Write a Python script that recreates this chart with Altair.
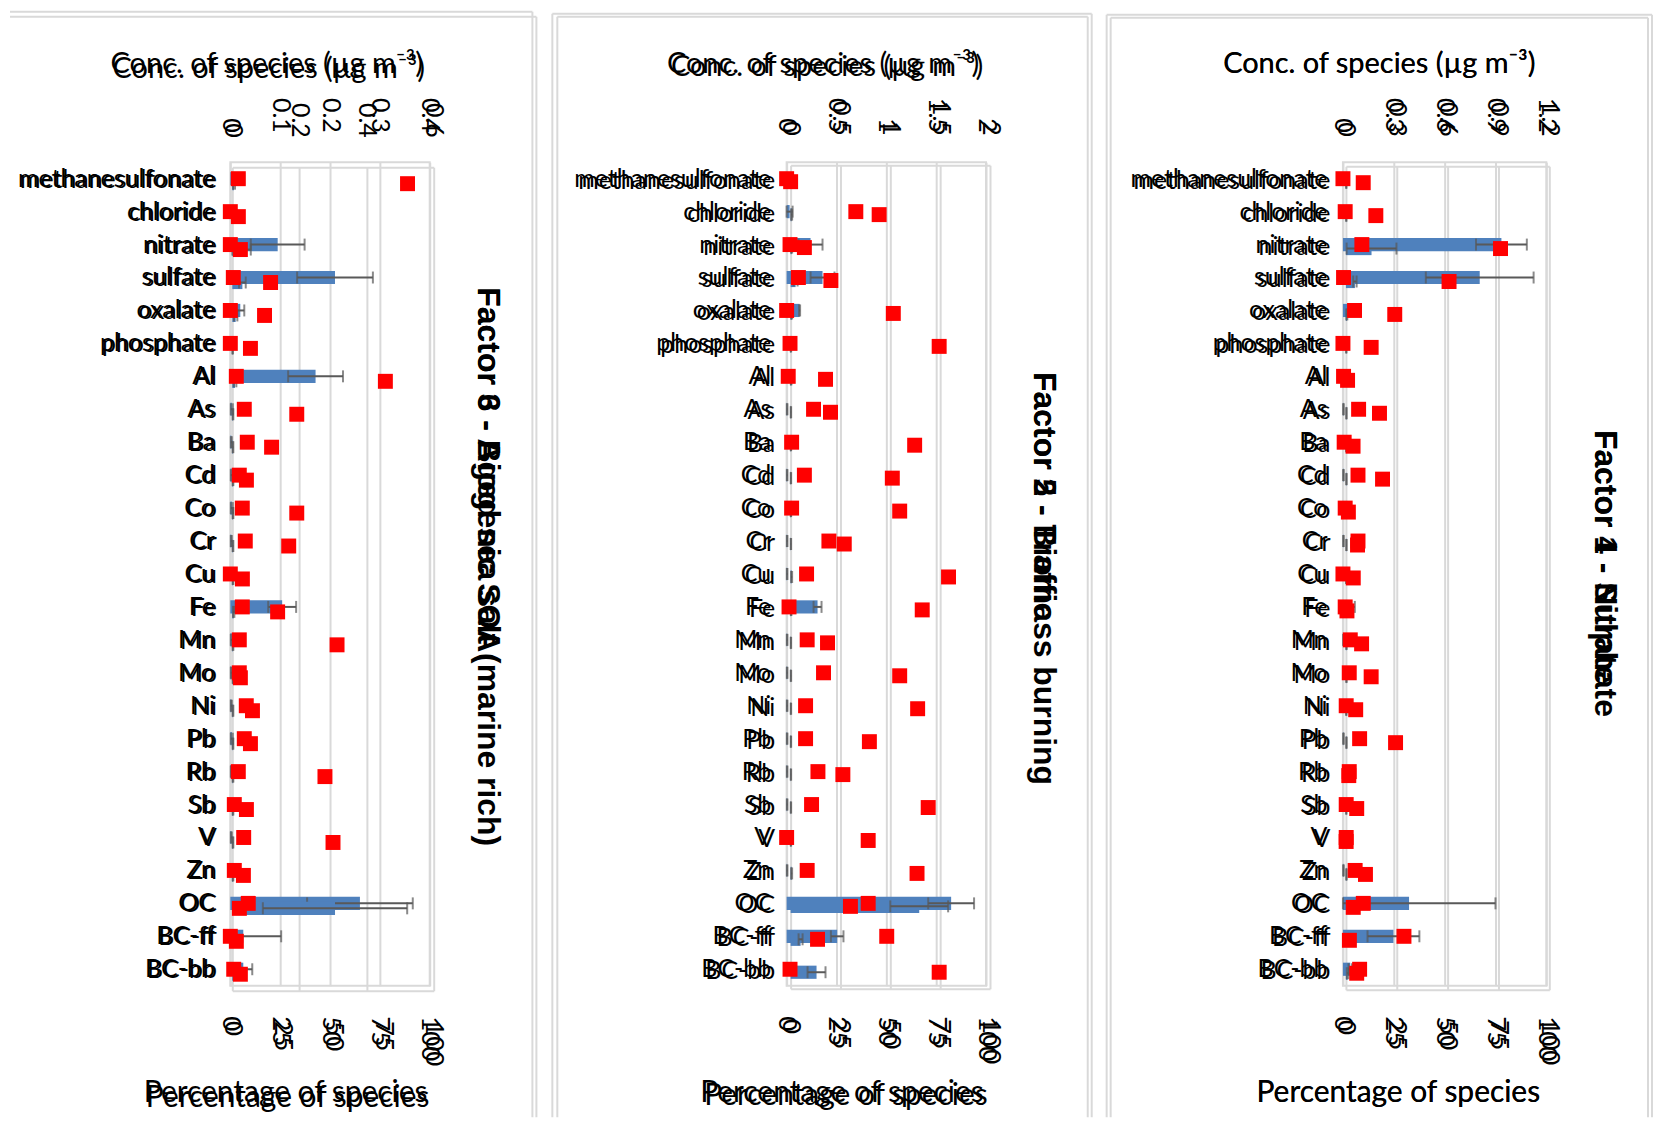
import altair as alt
import pandas as pd
import numpy as np

species = ["methanesulfonate", "chloride", "nitrate", "sulfate", "oxalate", "phosphate",
           "Al", "As", "Ba", "Cd", "Co", "Cr", "Cu", "Fe", "Mn", "Mo", "Ni", "Pb",
           "Rb", "Sb", "V", "Zn", "OC", "BC-ff", "BC-bb"]

# ---------------- Panel 1 ----------------
p1_title_A = "Factor 6 - Biogenic SOA"
p1_title_B = "Factor 3 - Aged sea salt (marine rich)"
p1_conc_A = [0.016, 0.002, 0.095, 0.21, 0.02, 0.001, 0.171, 0.003, 0.002, 0.003, 0.003, 0.002, 0.002,
             0.104, 0.003, 0.002, 0.002, 0.003, 0.002, 0.002, 0.002, 0.003, 0.26, 0.026, 0.026]
p1_err_A = [0.012, 0.001, 0.054, 0.076, 0.008, 0.001, 0.055, 0.002, 0.001, 0.002, 0.002, 0.001, 0.001,
            0.028, 0.002, 0.001, 0.001, 0.002, 0.001, 0.001, 0.001, 0.002, 0.106, 0.076, 0.018]
p1_conc_B = [0.005, 0.003, 0.02, 0.03, 0.01, 0.001, 0.008, 0.002, 0.002, 0.002, 0.002, 0.002, 0.002,
             0.004, 0.002, 0.002, 0.002, 0.002, 0.002, 0.002, 0.002, 0.002, 0.306, 0.01, 0.01]
p1_err_B = [0.003, 0.002, 0.035, 0.01, 0.005, 0.001, 0.004, 0.001, 0.001, 0.001, 0.001, 0.001, 0.001,
            0.002, 0.001, 0.001, 0.001, 0.001, 0.001, 0.001, 0.001, 0.001, 0.215, 0.005, 0.006]
p1_pct_A = [4, 0, 0, 1.5, 0, 0, 3, 7, 8.5, 4.5, 6, 7.5, 0, 6, 4.5, 4.5, 8, 7, 4, 2, 6.7, 2, 9, 0, 1.7]
p1_pct_B = [87, 3, 4, 19, 16, 9, 76, 32, 19.5, 7, 32, 28, 5, 22.5, 52, 4, 10, 9, 46, 7, 50, 5.5, 3.5, 2, 4]
p1_ticks_A = [0, 0.1, 0.2, 0.3, 0.4]
p1_ticks_B = [0, 0.2, 0.4, 0.6]

# ---------------- Panel 2 ----------------
p2_title_A = "Factor 2 - Biomass burning"
p2_title_B = "Factor 5 - Traffic"
p2_conc_A = [0.01, 0.03, 0.24, 0.36, 0.13, 0.005, 0.05, 0.005, 0.005, 0.005, 0.005, 0.005, 0.005,
             0.31, 0.005, 0.005, 0.005, 0.005, 0.005, 0.005, 0.005, 0.005, 1.65, 0.507, 0.02]
p2_err_A = [0.005, 0.03, 0.12, 0.12, 0.005, 0.003, 0.01, 0.003, 0.003, 0.003, 0.003, 0.003, 0.003,
            0.04, 0.003, 0.003, 0.003, 0.003, 0.003, 0.003, 0.003, 0.003, 0.23, 0.063, 0.01]
p2_conc_B = [0.005, 0.01, 0.01, 0.05, 0.01, 0.003, 0.005, 0.003, 0.003, 0.003, 0.003, 0.003, 0.01,
             0.005, 0.003, 0.003, 0.003, 0.003, 0.003, 0.003, 0.003, 0.01, 1.29, 0.10, 0.26]
p2_err_B = [0.003, 0.005, 0.005, 0.02, 0.005, 0.002, 0.003, 0.002, 0.002, 0.002, 0.002, 0.002, 0.005,
            0.003, 0.002, 0.002, 0.002, 0.002, 0.002, 0.002, 0.002, 0.005, 0.29, 0.02, 0.09]
p2_pct_A = [0, 34.7, 1.7, 5.9, 0, 1.7, 0.8, 13.5, 2.5, 8.9, 2.5, 21.2, 10, 1.2, 10.3, 18.5, 9.5, 9.5,
            15.7, 12.5, 0, 10.3, 40.9, 50.2, 1.7]
p2_pct_B = [0, 44.4, 6.9, 20.2, 51.5, 74.5, 17.5, 20, 62.2, 51, 54.7, 26.9, 79.2, 66, 18.5, 54.7, 63.7,
            39.5, 26.2, 69, 38.9, 63.4, 30, 13.5, 74.5]
p2_ticks = [0, 0.5, 1, 1.5, 2]

# ---------------- Panel 3 ----------------
p3_title_A = "Factor 1 - Sulphate"
p3_title_B = "Factor 4 - Nitrate"
p3_conc_A = [0.003, 0.003, 0.935, 0.807, 0.063, 0.003, 0.003, 0.003, 0.003, 0.003, 0.003, 0.003, 0.003,
             0.05, 0.003, 0.003, 0.003, 0.003, 0.003, 0.003, 0.003, 0.003, 0.39, 0.298, 0.043]
p3_err_A = [0.002, 0.002, 0.15, 0.318, 0.025, 0.002, 0.002, 0.002, 0.002, 0.002, 0.002, 0.002, 0.002,
            0.02, 0.002, 0.002, 0.002, 0.002, 0.002, 0.002, 0.002, 0.002, 0.51, 0.153, 0.01]
p3_conc_B = [0.002, 0.002, 0.151, 0.053, 0.005, 0.002, 0.002, 0.003, 0.002, 0.003, 0.002, 0.003, 0.002,
             0.002, 0.003, 0.003, 0.002, 0.003, 0.002, 0.002, 0.002, 0.003, 0.02, 0.01, 0.01]
p3_err_B = [0.001, 0.001, 0.147, 0.01, 0.003, 0.001, 0.001, 0.001, 0.001, 0.001, 0.001, 0.001, 0.001,
            0.001, 0.001, 0.001, 0.001, 0.001, 0.001, 0.001, 0.001, 0.001, 0.01, 0.005, 0.005]
p3_pct_A = [0, 1.1, 9.3, 0.3, 5.7, 0, 0.3, 7.7, 0.6, 7.4, 1.1, 7.4, 0, 1.1, 3.6, 3.1, 1.6, 8.2, 3.1,
            1.6, 1.6, 6, 10, 30, 8.2]
p3_pct_B = [8.5, 14.7, 76, 50.7, 24, 12.4, 0.8, 16.5, 3.5, 18, 1.2, 5.7, 3.6, 0.5, 7.7, 12.4, 4.8, 24.4,
            1.4, 5.3, 0.1, 9.6, 3.6, 1.7, 5.3]
p3_ticks = [0, 0.3, 0.6, 0.9, 1.2]

pct_ticks = [0, 25, 50, 75, 100]

H = 826
BLUE = "#4F81BD"
RED = "#FF0000"
GRID = "#d9d9d9"
ERR = "#595959"
CONC_TITLE = "Conc. of species (µg m⁻³)"
PCT_TITLE = "Percentage of species"
TOP_TY = -99
BOT_TY = 107
TOP_TX = 36
BOT_TX = 55


def frame_df(conc, err, pct):
    d = pd.DataFrame({"species": species, "conc": conc, "err": err, "pct": pct})
    d["lo"] = np.maximum(d["conc"] - d["err"], 0)
    d["hi"] = d["conc"] + d["err"]
    return d


def top_axis(ticks, offset, domain, tx, ty):
    return alt.Axis(orient="top", values=ticks, labelExpr="'' + datum.value", labelAngle=90,
                    labelAlign="right", labelBaseline="middle", labelFont="Lato", labelFontSize=25,
                    labelColor="#000", labelPadding=30, labelOverlap=False, labelFlush=False,
                    ticks=False, tickSize=0, domain=domain, domainColor=GRID, domainWidth=2,
                    grid=True, gridColor=GRID, gridWidth=2, title=CONC_TITLE, titleFont="Lato",
                    titleFontSize=29, titleFontWeight="normal", titleColor="#000", titleX=tx,
                    titleY=ty, titleAlign="center", titleBaseline="middle", titleAngle=0,
                    offset=offset)


def bottom_axis(offset, domain, tx, ty):
    return alt.Axis(orient="bottom", values=pct_ticks, labelAngle=90, labelAlign="left",
                    labelBaseline="middle", labelFont="Lato", labelFontSize=26, labelColor="#000",
                    labelPadding=30, labelOverlap=False, labelFlush=False, ticks=False, tickSize=0,
                    domain=domain, domainColor=GRID, domainWidth=2, grid=False, title=PCT_TITLE,
                    titleFont="Lato", titleFontSize=30, titleFontWeight="normal", titleColor="#000",
                    titleX=tx, titleY=ty, titleAlign="center", titleBaseline="middle", titleAngle=0,
                    offset=offset)


def left_axis(offset, label_offset):
    return alt.Axis(orient="left", labelFont="Lato", labelFontSize=25, labelColor="#000",
                    labelPadding=16, ticks=False, tickSize=0, domain=False, grid=False, title=None,
                    offset=offset, labelOffset=label_offset, labelLimit=400)


def right_axis(title, ty):
    return alt.Axis(orient="right", labels=False, ticks=False, tickSize=0, domain=False, grid=False,
                    title=title, titleAngle=90, titleAlign="left", titleBaseline="middle", titleX=58,
                    titleY=ty, titleFont="Liberation Sans", titleFontSize=32, titleFontWeight="bold",
                    titleColor="#000")


def conc_layer(d, dom, xr, yr, xaxis, yaxis):
    xs = alt.Scale(domain=dom, range=xr, nice=False, zero=True)
    ys = alt.Scale(domain=species, range=yr, paddingInner=0.6, paddingOuter=0.3)
    base = alt.Chart(d).encode(y=alt.Y("species:N", sort=species, scale=ys, axis=yaxis))
    bar = base.mark_bar(color=BLUE).encode(x=alt.X("conc:Q", scale=xs, axis=xaxis))
    rule = base.mark_rule(color=ERR, strokeWidth=2).encode(
        x=alt.X("lo:Q", scale=xs, axis=xaxis), x2="hi:Q")
    cap_lo = base.mark_tick(color=ERR, thickness=2, size=12).encode(x=alt.X("lo:Q", scale=xs, axis=xaxis))
    cap_hi = base.mark_tick(color=ERR, thickness=2, size=12).encode(x=alt.X("hi:Q", scale=xs, axis=xaxis))
    return alt.layer(bar, rule, cap_lo, cap_hi)


def pct_layer(d, xr, yr, xaxis, yaxis):
    xs = alt.Scale(domain=[0, 100], range=xr, nice=False)
    ys = alt.Scale(domain=species, range=yr, paddingInner=0.6, paddingOuter=0.3)
    return alt.Chart(d).mark_square(size=225, color=RED, opacity=1).encode(
        x=alt.X("pct:Q", scale=xs, axis=xaxis),
        y=alt.Y("species:N", sort=species, scale=ys, axis=yaxis))


def frame_rules(segs):
    one = pd.DataFrame({"k": [0]})
    out = []
    for (x1, x2, y1, y2) in segs:
        out.append(alt.Chart(one).mark_rule(color=GRID, strokeWidth=2).encode(
            x=alt.value(x1), x2=alt.value(x2), y=alt.value(y1), y2=alt.value(y2)))
    return out


def panel(W, conc_A, err_A, conc_B, err_B, pct_A, pct_B, dom_A, dom_B, ticks_A, ticks_B,
          dx, dy, wB, lab_off, title_A, title_B, title_y, segs, same_titles):
    dA = frame_df(conc_A, err_A, pct_A)
    dB = frame_df(conc_B, err_B, pct_B)
    xrA = [0, W]
    yrA = [0, H]
    xrB = [dx, dx + wB]
    yrB = [dy, H + dy]
    if same_titles:
        tB_top = (TOP_TX, TOP_TY - dy)
        tB_bot = (BOT_TX, BOT_TY - dy)
    else:
        tB_top = (TOP_TX + dx, TOP_TY)
        tB_bot = (BOT_TX + dx, BOT_TY)
    cA = conc_layer(dA, dom_A, xrA, yrA, top_axis(ticks_A, 0, False, TOP_TX, TOP_TY), left_axis(0, 0))
    cB = conc_layer(dB, dom_B, xrB, yrB, top_axis(ticks_B, -dy, True, tB_top[0], tB_top[1]),
                    left_axis(-dx, lab_off))
    sA = pct_layer(dA, xrA, yrA, bottom_axis(0, False, BOT_TX, BOT_TY), right_axis(title_A, title_y))
    sB = pct_layer(dB, xrB, yrB, bottom_axis(dy, True, tB_bot[0], tB_bot[1]),
                   right_axis(title_B, title_y))
    layers = frame_rules(segs) + [cA, cB, sA, sB]
    return alt.layer(*layers).resolve_scale(x="independent", y="independent").properties(
        width=W, height=H)


BOT = 958
p1 = panel(200, p1_conc_A, p1_err_A, p1_conc_B, p1_err_B, p1_pct_A, p1_pct_B, [0, 0.4], [0, 0.6],
           p1_ticks_A, p1_ticks_B, 2, 5, 202, -4, p1_title_A, p1_title_B, 125,
           [(-221, 303, -151, -151), (303, 303, -151, BOT), (-221, 307, -146, -146), (307, 307, -146, BOT)],
           False)
p2 = panel(200, p2_conc_A, p2_err_A, p2_conc_B, p2_err_B, p2_pct_A, p2_pct_B, [0, 2], [0, 2],
           p2_ticks, p2_ticks, 4, 3, 200, -1, p2_title_A, p2_title_B, 210,
           [(-235, 306, -149, -149), (-235, -235, -149, BOT), (306, 306, -149, BOT),
            (-230, 302, -146, -146), (-230, -230, -146, BOT), (302, 302, -146, BOT)],
           False)
p3 = panel(204, p3_conc_A, p3_err_A, p3_conc_B, p3_err_B, p3_pct_A, p3_pct_B, [0, 1.2], [0, 1.2],
           p3_ticks, p3_ticks, 3, 4, 204, -2, p3_title_A, p3_title_B, 268,
           [(-237, 310, -148, -148), (-237, -237, -148, BOT), (310, 310, -148, BOT),
            (-233, 306, -145, -145), (-233, -233, -145, BOT), (306, 306, -145, BOT)],
           True)

chart = alt.hconcat(p1, p2, p3, spacing=358, bounds="flush").properties(
    padding=0, background="white"
).configure_view(stroke=GRID, strokeWidth=2)

chart.save("out.html", embed_options={"renderer": "svg", "actions": False})
